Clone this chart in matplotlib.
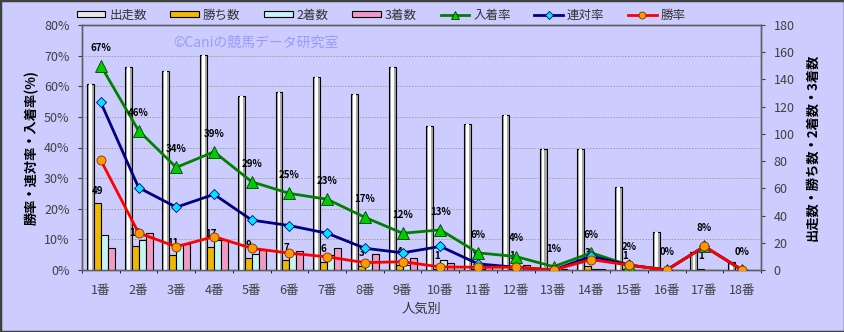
import matplotlib.pyplot as plt
import numpy as np
from matplotlib.lines import Line2D
from matplotlib.patches import Patch, Rectangle

plt.rcParams["font.family"] = ["Noto Sans CJK JP", "DejaVu Sans"]

# Data
categories = [f"{i}番" for i in range(1, 19)]
starts = [137, 149, 146, 158, 128, 131, 142, 129, 149, 106, 107, 114, 89, 89, 61, 28, 13, 6]
wins = [49, 18, 11, 17, 9, 7, 6, 3, 4, 1, 1, 1, 0, 3, 1, 0, 1, 0]
seconds = [26, 22, 19, 22, 12, 12, 11, 6, 4, 7, 1, 0, 0, 1, 0, 0, 0, 0]
thirds = [16, 27, 19, 22, 15, 14, 16, 12, 9, 5, 4, 4, 1, 1, 0, 0, 0, 0]
win_rate = [35.8, 12.1, 7.6, 10.9, 7.1, 5.5, 4.3, 2.4, 2.7, 1.0, 0.9, 0.9, 0.0, 3.4, 1.6, 0.0, 7.7, 0.0]
top2_rate = [54.7, 26.9, 20.5, 24.7, 16.3, 14.5, 12.0, 7.1, 5.6, 7.7, 2.0, 0.9, 0.0, 4.5, 1.6, 0.0, 7.7, 0.0]
top3_rate = [66.7, 45.5, 33.5, 38.6, 28.8, 25.0, 23.1, 17.2, 12.0, 13.1, 5.6, 4.4, 1.1, 5.6, 1.6, 0.0, 7.7, 0.0]

BG = "#ccccff"
PLOT_BG = "#ffffcc"
GOLD = "#f0b800"
CYAN = "#c4f4f4"
PINK = "#f29ac6"
TICK_COLOR = "#404040"

fig = plt.figure(figsize=(8.45, 3.32), dpi=100, facecolor=BG)
fig.patches.append(Rectangle((0, 0), 1, 1, transform=fig.transFigure,
                             fill=False, edgecolor="#404040", linewidth=2.5))

W, H = 845, 332
rect = [82 / W, 1 - 270 / H, (761 - 82) / W, (270 - 25) / H]
ax = fig.add_axes(rect)
ax2 = ax.twinx()

x = np.arange(len(categories))
bw = 0.185

# bars on the right-hand axis
ax2.set_facecolor(PLOT_BG)
ax2.bar(x - 1.5 * bw, starts, bw, color="#a8a8a8", edgecolor="black", linewidth=0.8, zorder=3)
ax2.bar(x - 1.5 * bw, starts, bw * 0.4, color="white", linewidth=0, zorder=4)
ax2.bar(x - 0.5 * bw, wins, bw, color=GOLD, edgecolor="black", linewidth=0.8, zorder=3)
ax2.bar(x + 0.5 * bw, seconds, bw, color=CYAN, edgecolor="black", linewidth=0.8, zorder=3)
ax2.bar(x + 1.5 * bw, thirds, bw, color=PINK, edgecolor="black", linewidth=0.8, zorder=3)
ax2.set_ylim(0, 180)
ax2.set_yticks(np.arange(0, 181, 20))
ax2.set_yticks(np.arange(0, 181, 22.5), minor=True)
ax2.set_xticks(np.arange(-0.5, len(categories), 1), minor=True)
ax2.grid(True, which="minor", color="#a09f90", linestyle=(0, (1.5, 1.5)), linewidth=0.7, zorder=0)
ax2.tick_params(axis="y", which="minor", length=0)
ax2.tick_params(axis="y", which="major", length=3, direction="out", colors=TICK_COLOR,
                labelsize=9, pad=6)
ax2.tick_params(axis="x", which="minor", length=0)
ax2.set_ylabel("出走数・勝ち数・2着数・3着数", fontsize=9.5, fontweight="bold", labelpad=8)

# win counts above the gold bars (zero counts are hidden under the rate labels in the reference)
for xi, w in zip(x, wins):
    if w == 0:
        continue
    ax2.annotate(str(w), (xi - 0.5 * bw, w), xytext=(0, 9), textcoords="offset points",
                 ha="center", va="center", fontsize=7, fontweight="bold", zorder=6)

# rate lines on the left-hand axis, drawn above the bars
ax.set_zorder(ax2.get_zorder() + 1)
ax.patch.set_visible(False)
ax.plot(x, top3_rate, color="#008000", linewidth=2, marker="^", markersize=8,
        markerfacecolor="#00cc00", markeredgecolor="#004000", markeredgewidth=0.6, zorder=3)
ax.plot(x, top2_rate, color="#000080", linewidth=2, marker="D", markersize=5,
        markerfacecolor="#00e5ff", markeredgecolor="#000080", markeredgewidth=0.6, zorder=4)
ax.plot(x, win_rate, color="#ff0000", linewidth=2, marker="o", markersize=6.5,
        markerfacecolor="#ff9900", markeredgecolor="#803000", markeredgewidth=0.6, zorder=5)

for xi, r in zip(x, top3_rate):
    ax.annotate(f"{r:.0f}%", (xi, r), xytext=(0, 13), textcoords="offset points",
                ha="center", va="center", fontsize=7, fontweight="bold", zorder=6)

ax.set_xlim(-0.5, len(categories) - 0.5)
ax.set_ylim(0, 80)
ax.set_yticks(np.arange(0, 81, 10))
ax.set_yticklabels([f"{v}%" for v in range(0, 81, 10)])
ax.set_xticks(x)
ax.set_xticklabels(categories)
ax.tick_params(axis="y", length=3, direction="out", colors=TICK_COLOR, labelsize=9, pad=6)
ax.tick_params(axis="x", length=0, colors=TICK_COLOR, labelsize=9, pad=10)
ax.set_ylabel("勝率・連対率・入着率(%)", fontsize=9.5, fontweight="bold", labelpad=4)
ax.set_xlabel("人気別", fontsize=9.5, color="#333333", labelpad=4)

for a in (ax, ax2):
    for s in a.spines.values():
        s.set_color("#606060")
        s.set_linewidth(1)

fig.text(256 / W, 1 - 43 / H, "©Caniの競馬データ研究室", color="#9a9aff",
         fontsize=10, ha="center", va="center")

handles = [
    Patch(facecolor="#e8e8e8", edgecolor="black", linewidth=0.8),
    Patch(facecolor=GOLD, edgecolor="black", linewidth=0.8),
    Patch(facecolor=CYAN, edgecolor="black", linewidth=0.8),
    Patch(facecolor=PINK, edgecolor="black", linewidth=0.8),
    Line2D([], [], color="#008000", linewidth=2, marker="^", markersize=6,
           markerfacecolor="#00cc00", markeredgecolor="#004000", markeredgewidth=0.6),
    Line2D([], [], color="#000080", linewidth=2, marker="D", markersize=4,
           markerfacecolor="#00e5ff", markeredgecolor="#000080", markeredgewidth=0.6),
    Line2D([], [], color="#ff0000", linewidth=2, marker="o", markersize=5,
           markerfacecolor="#ff9900", markeredgecolor="#803000", markeredgewidth=0.6),
]
labels = ["出走数", "勝ち数", "2着数", "3着数", "入着率", "連対率", "勝率"]
fig.legend(handles, labels, loc="center", bbox_to_anchor=(0.451, 1 - 15 / H), ncol=7,
           frameon=False, fontsize=9, handlelength=2.3, handleheight=0.45,
           handletextpad=0.3, columnspacing=1.9, labelcolor="#333333")

fig.savefig("out.png", dpi=100, facecolor=BG)
